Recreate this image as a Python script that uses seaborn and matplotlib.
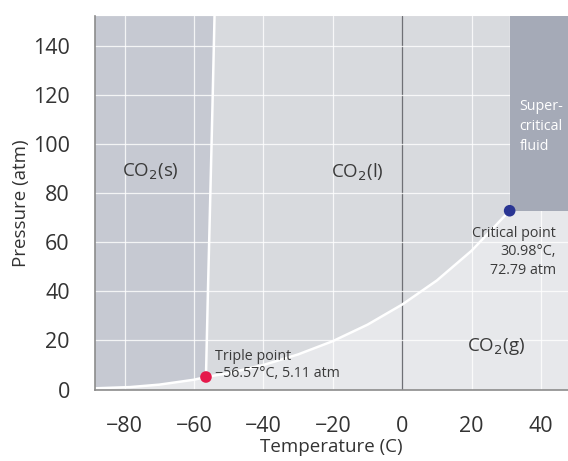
import numpy as np
import pandas as pd
import matplotlib
matplotlib.use("Agg")
import matplotlib.pyplot as plt
import seaborn as sns

sns.set_style("white")
plt.rcParams["font.family"] = ["Open Sans", "DejaVu Sans"]

# phase boundaries
vap_temp = [-88.6, -78.5, -70.0, -60.0, -56.57, -50.0, -40.0, -30.0, -20.0, -10.0, 0.0, 10.0, 20.0, 30.98]
vap_pres = [0.5, 1.0, 2.0, 4.0, 5.11, 6.7, 10.0, 14.3, 19.7, 26.4, 34.6, 44.4, 56.5, 72.79]
melt_temp = [-56.57, -56.0, -55.3, -54.7, -54.1]
melt_pres = [5.11, 40.0, 80.0, 115.0, 152.0]
triple = (-56.57, 5.11)
critical = (30.98, 72.79)
xlim = (-88.6, 47.8)
ylim = (0, 152)
xticks = [-80, -60, -40, -20, 0, 20, 40]
yticks = [0, 20, 40, 60, 80, 100, 120, 140]

c_gas = "#e7e8eb"
c_liq = "#d8dade"
c_sol = "#c6c9d2"
c_sup = "#a5aab7"

fig, ax = plt.subplots(figsize=(5.68, 4.61), dpi=100)
fig.subplots_adjust(left=0.167, right=1.0, top=0.965, bottom=0.155)
ax.set_facecolor(c_gas)
ax.set_xlim(*xlim)
ax.set_ylim(*ylim)

vt = np.array(vap_temp)
vp = np.array(vap_pres)
mt = np.array(melt_temp)
mp = np.array(melt_pres)

# solid region: left of melting curve, above sublimation curve
sub = vt <= triple[0]
sol_x = np.concatenate([[xlim[0]], vt[sub], mt, [xlim[0]]])
sol_y = np.concatenate([[ylim[1]], vp[sub], mp, [ylim[1]]])
ax.fill(sol_x, sol_y, color=c_sol, lw=0, zorder=0.1)

# liquid region
liq = vt >= triple[0]
liq_x = np.concatenate([mt, [critical[0]], vt[liq][::-1]])
liq_y = np.concatenate([mp, [ylim[1]], vp[liq][::-1]])
ax.fill(liq_x, liq_y, color=c_liq, lw=0, zorder=0.1)

# grid
for x in xticks:
    if x == 0:
        ax.axvline(x, color="#6f7075", lw=0.9, zorder=0.3)
    else:
        ax.axvline(x, color="white", lw=0.9, alpha=0.8, zorder=0.3)
for y in yticks[1:]:
    ax.axhline(y, color="white", lw=0.9, alpha=0.8, zorder=0.3)

# supercritical region on top of grid
ax.fill_between([critical[0], xlim[1]], critical[1], ylim[1], color=c_sup, lw=0, zorder=0.4)

curve = pd.DataFrame({"T": vt, "P": vp})
melt = pd.DataFrame({"T": mt, "P": mp})
sns.lineplot(data=curve, x="T", y="P", color="white", lw=1.8, sort=False, ax=ax, zorder=2)
sns.lineplot(data=melt, x="T", y="P", color="white", lw=1.8, sort=False, ax=ax, zorder=2)

pts = pd.DataFrame({"T": [triple[0], critical[0]], "P": [triple[1], critical[1]], "kind": ["triple", "critical"]})
sns.scatterplot(data=pts, x="T", y="P", hue="kind", palette={"triple": "#e5194b", "critical": "#2a3593"},
                s=70, edgecolor="none", legend=False, ax=ax, zorder=3, clip_on=False)

tc = "#3a3a3a"
ax.text(-72.5, 88.5, "CO$_2$(s)", fontsize=13.5, color=tc, ha="center", va="center")
ax.text(-13, 88.5, "CO$_2$(l)", fontsize=13.5, color=tc, ha="center", va="center")
ax.text(27, 17.5, "CO$_2$(g)", fontsize=13.5, color=tc, ha="center", va="center")
ax.text(33.8, 107, "Super-\ncritical\nfluid", fontsize=10.3, color="white", ha="left", va="center", linespacing=1.45)
ax.text(44.3, 56, "Critical point\n30.98°C,\n72.79 atm", fontsize=10.3, color=tc, ha="right", va="center",
        multialignment="right", linespacing=1.35)
ax.text(-53.9, 10, "Triple point\n\u221256.57°C, 5.11 atm", fontsize=10.3, color=tc, ha="left", va="center",
        linespacing=1.25)

ax.set_xticks(xticks)
ax.set_yticks(yticks)
ax.set_xticklabels([f"{t}".replace("-", "\u2212") for t in xticks])
ax.tick_params(axis="both", length=15, width=1, color="#8c8c8c", labelsize=15.5, labelcolor="#333333", direction="out")
ax.tick_params(axis="x", pad=4)
ax.tick_params(axis="y", pad=3)
ax.set_xlabel("Temperature (C)", fontsize=13.5, color="#333333", labelpad=1)
ax.set_ylabel("Pressure (atm)", fontsize=13.5, color="#333333", labelpad=2)

sns.despine(ax=ax)
for s in ["left", "bottom"]:
    ax.spines[s].set_color("#8c8c8c")
    ax.spines[s].set_linewidth(1.2)

fig.savefig("out.png", dpi=100)
